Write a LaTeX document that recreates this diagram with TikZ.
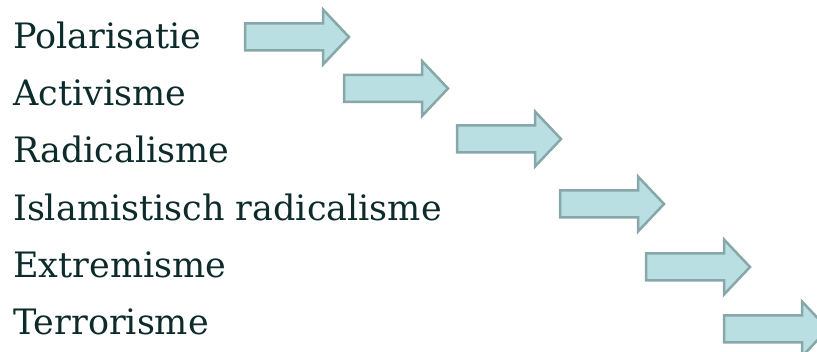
\documentclass[tikz,border=0pt]{standalone}
\usepackage{fontspec}
\setmainfont{DejaVu Serif}
\definecolor{txt}{HTML}{0D2B2B}
\definecolor{arrfill}{HTML}{B9DFE2}
\definecolor{arrline}{HTML}{87A7A8}
\tikzset{
  term/.style={anchor=base west, inner sep=0pt, text=txt, font=\fontsize{35}{40}\selectfont},
  fatarrow/.style={fill=arrfill, draw=arrline, line width=2.5pt, line join=miter}
}
\newcommand\blockarrow[2]{%
  \draw[fatarrow] (#1,#2-13.5) -- ++(78,0) -- ++(0,-14) -- ++(26,27.5) -- ++(-26,27.5) -- ++(0,-14) -- ++(-78,0) -- cycle;}
\begin{document}
\begin{tikzpicture}[x=1pt,y=-1pt]
\useasboundingbox (0,0) rectangle (817,352);
\node[term] (t1) at (13,49) {Polarisatie};
\node[term] (t2) at (13,106) {Activisme};
\node[term] (t3) at (13,163) {Radicalisme};
\node[term] (t4) at (13,221) {Islamistisch radicalisme};
\node[term] (t5) at (13,278) {Extremisme};
\node[term] (t6) at (13,335) {Terrorisme};
\blockarrow{245}{37}
\blockarrow{344}{88.5}
\blockarrow{457}{139}
\blockarrow{560}{204}
\blockarrow{646}{267}
\blockarrow{724}{329}
\end{tikzpicture}
\end{document}
